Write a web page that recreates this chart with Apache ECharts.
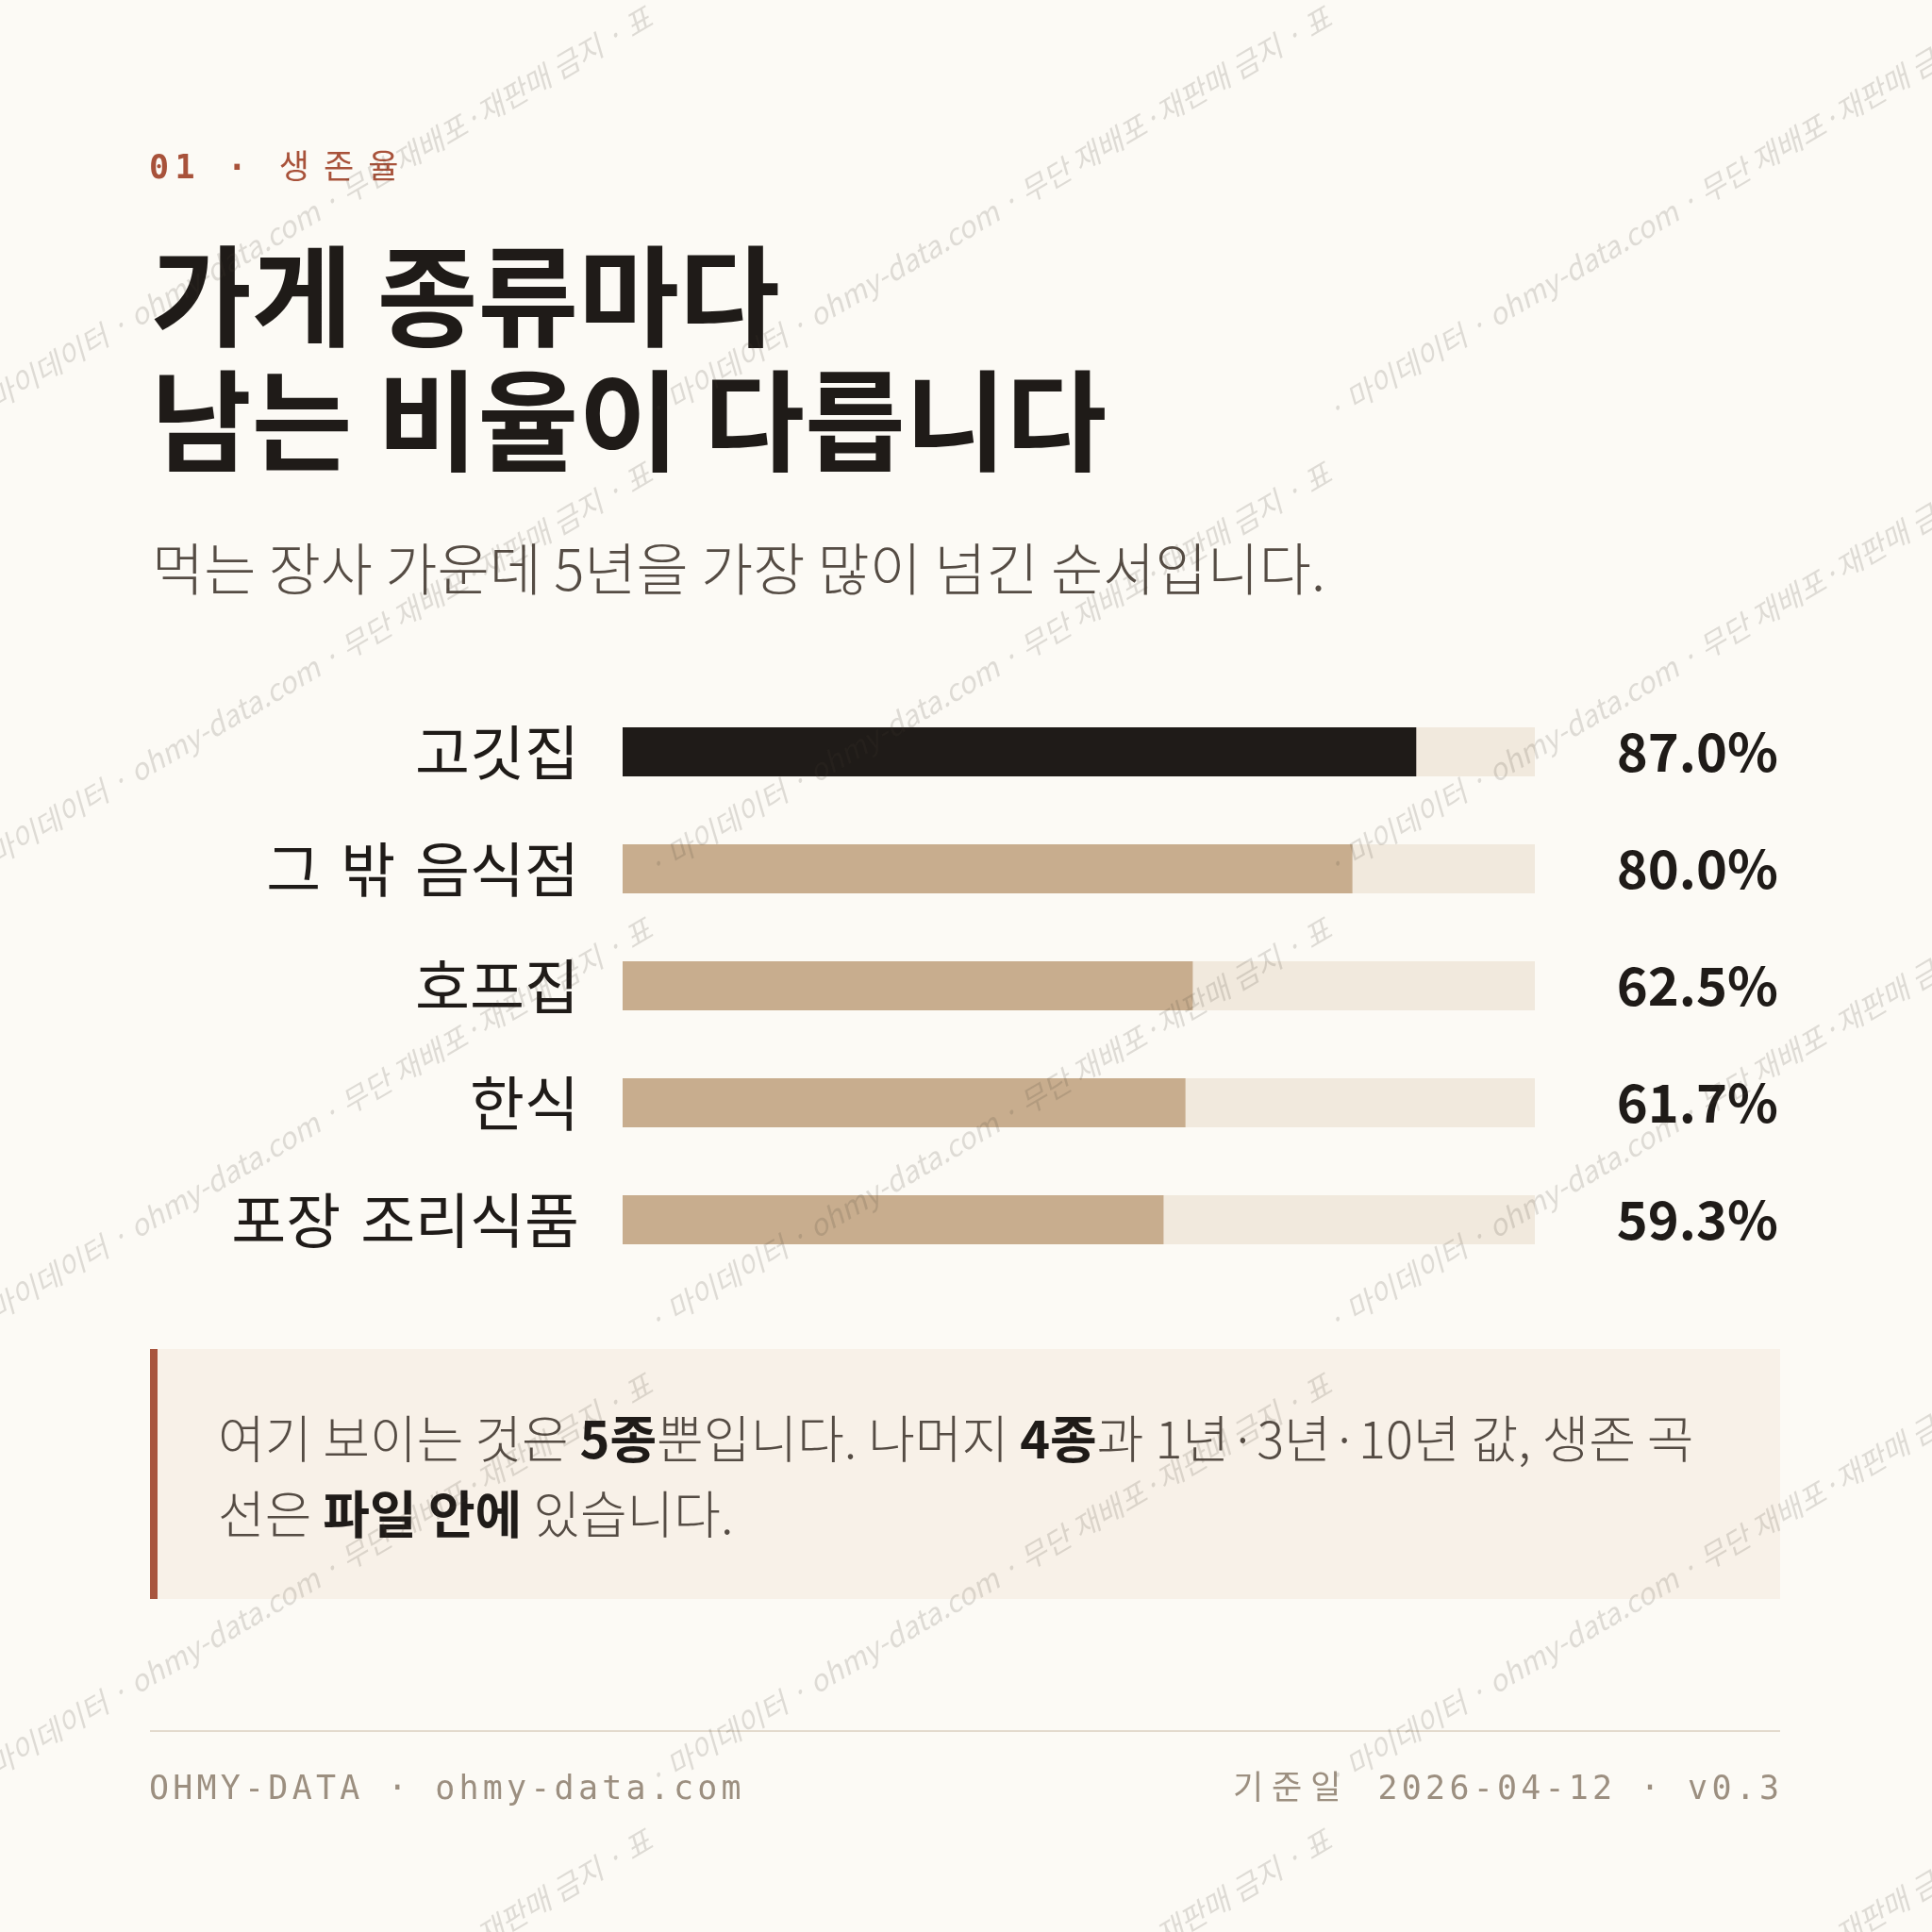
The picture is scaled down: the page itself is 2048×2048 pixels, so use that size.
<!DOCTYPE html>
<html>
<head>
<meta charset="utf-8">
<script src="https://cdn.jsdelivr.net/npm/echarts@6/dist/echarts.min.js"></script>
<style>
  html, body { margin: 0; padding: 0; background: #fcfaf5; }
  #main { width: 2048px; height: 2048px; }
</style>
</head>
<body>
<div id="main"></div>
<script>
// 데이터
const categories = ['고깃집', '그 밖 음식점', '호프집', '한식', '포장 조리식품'];
const survival5y = [87.0, 80.0, 62.5, 61.7, 59.3];
const highlight = '고깃집';
const axisMax = 100;

// 문구
const kickerNum = '01 · ';
const kickerWord = '생존율';
const titleLines = ['가게 종류마다', '남는 비율이 다릅니다'];
const subtitle = '먹는 장사 가운데 5년을 가장 많이 넘긴 순서입니다.';
const noteLines = [
  '여기 보이는 것은 {b|5종}뿐입니다. 나머지 {b|4종}과 1년·3년·10년 값, 생존 곡',
  '선은 {b|파일 안에} 있습니다.'
];
const footLeft = 'OHMY-DATA · ohmy-data.com';
const footDateLabel = '기준일 ';
const footDate = '2026-04-12 · v0.3';
const watermark = '· 마이데이터 · ohmy-data.com · 무단 재배포·재판매 금지 · 표';

const SANS = '"Noto Sans CJK KR", "Noto Sans", sans-serif';
const MONO = '"DejaVu Sans Mono", "Noto Sans CJK KR", monospace';
const INK = '#1f1b18';

// 자간 있는 글자 배치 (캔버스로 폭을 잰다)
const measureCtx = document.createElement('canvas').getContext('2d');
function spaced(segs, x, y, size, align) {
  let items = [], w = 0, last = 0;
  segs.forEach(s => {
    measureCtx.font = `${s.weight} ${size}px ${MONO}`;
    for (const ch of s.text) {
      const cw = measureCtx.measureText(ch).width;
      items.push({ ch, x: w, s });
      w += cw + s.spacing;
      last = s.spacing;
    }
  });
  w -= last;
  const x0 = align === 'right' ? x - w : x;
  return items.map(it => ({
    type: 'text', silent: true, z: 10,
    x: x0 + it.x, y,
    style: {
      text: it.ch, fill: it.s.color, fontFamily: MONO, fontSize: size,
      fontWeight: it.s.weight, textVerticalAlign: 'middle'
    }
  }));
}

const graphics = [];

// 머리글
graphics.push(...spaced([
  { text: kickerNum, weight: 'bold', color: '#a8523a', spacing: 6.5 },
  { text: kickerWord, weight: 'normal', color: '#a8523a', spacing: 15 }
], 158, 180, 35));

// 제목
titleLines.forEach((t, i) => {
  graphics.push({
    type: 'text', silent: true, z: 10, x: 160, y: 314 + i * 132,
    style: { text: t, fill: INK, fontFamily: SANS, fontSize: 116, fontWeight: 'bold', textVerticalAlign: 'middle' }
  });
});

// 부제
graphics.push({
  type: 'text', silent: true, z: 10, x: 161, y: 603,
  style: { text: subtitle, fill: '#554c44', fontFamily: SANS, fontSize: 60, fontWeight: 300, textVerticalAlign: 'middle' }
});

// 안내 상자
graphics.push({
  type: 'rect', silent: true, z: 1,
  shape: { x: 159, y: 1430, width: 1728, height: 265 },
  style: { fill: '#f8f1e8' }
});
graphics.push({
  type: 'rect', silent: true, z: 2,
  shape: { x: 159, y: 1430, width: 8, height: 265 },
  style: { fill: '#a8553e' }
});
noteLines.forEach((t, i) => {
  graphics.push({
    type: 'text', silent: true, z: 10, x: 231, y: 1525 + i * 80,
    style: {
      text: t, fill: '#554c44', fontFamily: SANS, fontSize: 54, fontWeight: 300, textVerticalAlign: 'middle',
      rich: { b: { fill: INK, fontWeight: 'bold', fontFamily: SANS, fontSize: 54 } }
    }
  });
});

// 바닥글
graphics.push({
  type: 'line', silent: true, z: 2,
  shape: { x1: 159, y1: 1835, x2: 1887, y2: 1835 },
  style: { stroke: '#e3dacd', lineWidth: 2 }
});
graphics.push(...spaced([{ text: footLeft, weight: 'normal', color: '#9c8f80', spacing: 4.2 }], 158, 1898, 35));
graphics.push(...spaced([
  { text: footDateLabel, weight: 'normal', color: '#9c8f80', spacing: 9 },
  { text: footDate, weight: 'normal', color: '#9c8f80', spacing: 4.2 }
], 1886, 1898, 35, 'right'));

// 워터마크
[451, 934, 1417, 1900, 2383].forEach(wy => {
  [-744, -24, 696, 1416].forEach(wx => {
    graphics.push({
      type: 'text', silent: true, z: 100, x: wx, y: wy, rotation: 0.53,
      style: {
        text: watermark, fill: 'rgba(70,60,50,0.16)', fontFamily: SANS, fontSize: 31,
        fontStyle: 'italic', textVerticalAlign: 'bottom'
      }
    });
  });
});

var myChart = echarts.init(document.getElementById('main'));
let o = {
  backgroundColor: '#fcfaf5',
  animation: false,
  grid: { left: 660, right: 421, top: 735, height: 620 },
  xAxis: { type: 'value', min: 0, max: axisMax, show: false },
  yAxis: [{
    type: 'category', data: categories, inverse: true,
    axisLine: { show: false }, axisTick: { show: false }, splitLine: { show: false },
    axisLabel: {
      margin: 46, fontSize: 63, color: INK, fontFamily: SANS,
      // 낱말 사이를 조금 넓게
      formatter: v => v.replace(/ /g, '\u2004')
    }
  }, {
    type: 'category', data: survival5y.map(v => v.toFixed(1) + '%'), inverse: true, position: 'right',
    axisLine: { show: false }, axisTick: { show: false }, splitLine: { show: false },
    axisLabel: { margin: 258, align: 'right', fontSize: 56, fontWeight: 'bold', color: INK, fontFamily: SANS }
  }],
  series: [{
    type: 'bar', yAxisIndex: 0, silent: true,
    data: categories.map(() => axisMax),
    barWidth: 52, barGap: '-100%',
    itemStyle: { color: '#f1e9dd' }
  }, {
    type: 'bar', yAxisIndex: 0,
    data: survival5y.map((v, i) => ({
      value: v,
      itemStyle: { color: categories[i] === highlight ? INK : '#c8ad8e' }
    })),
    barWidth: 52
  }],
  graphic: graphics
};

myChart.setOption(o);
</script>
</body>
</html>
